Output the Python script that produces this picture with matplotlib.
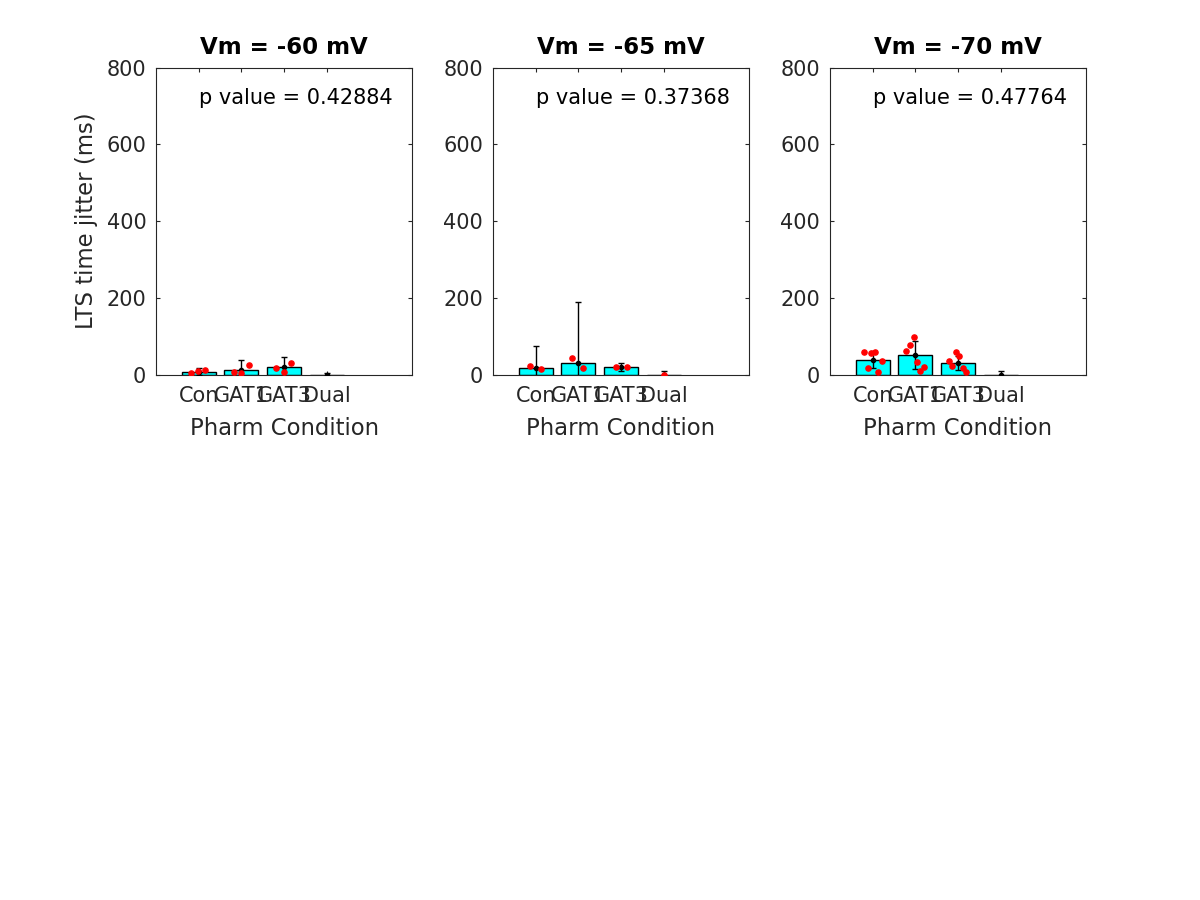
import numpy as np
import matplotlib.pyplot as plt

# conditions and per-panel data
conditions = ["Con", "GAT1", "GAT3", "Dual"]
titles = ["Vm = -60 mV", "Vm = -65 mV", "Vm = -70 mV"]
p_values = ["0.42884", "0.37368", "0.47764"]

means_60 = [8, 12, 19, 0]
errs_60 = [9, 26, 27, 5]
pts_60 = [[3, 10, 11], [8, 3, 24], [18, 8, 30], []]
jit_60 = [[-0.18, -0.01, 0.15], [-0.17, 0.0, 0.17], [-0.18, 0.0, 0.16], []]

means_65 = [18, 29, 20, 0]
errs_65 = [56, 160, 10, 10]
pts_65 = [[23, 14], [42, 16], [19, 21], [0]]
jit_65 = [[-0.13, 0.13], [-0.14, 0.11], [-0.12, 0.13], [0.0]]

means_70 = [39, 51, 31, 0]
errs_70 = [23, 36, 18, 10]
pts_70 = [[60, 56, 60, 35, 18, 6], [99, 78, 62, 33, 21, 10],
          [59, 48, 36, 22, 16, 8], []]
jit_70 = [[-0.2, -0.03, 0.05, 0.22, -0.11, 0.13],
          [-0.04, -0.13, -0.21, 0.04, 0.2, 0.12],
          [-0.05, 0.03, -0.21, -0.13, 0.12, 0.2], []]

panels = [(means_60, errs_60, pts_60, jit_60),
          (means_65, errs_65, pts_65, jit_65),
          (means_70, errs_70, pts_70, jit_70)]

grey = "#262626"
fig = plt.figure(figsize=(12, 9), dpi=100)
lefts = [0.13, 0.4108, 0.6916]

for k, (means, errs, pts, jit) in enumerate(panels):
    ax = fig.add_axes([lefts[k], 0.5838, 0.2134, 0.3412])
    x = np.arange(1, len(conditions) + 1)
    ax.bar(x, means, width=0.8, color="cyan", edgecolor="black", linewidth=1, zorder=2)
    ax.errorbar(x, means, yerr=errs, fmt=".", color="black", ecolor="black",
                elinewidth=1, capsize=2, markersize=6, zorder=3)
    for i in range(len(conditions)):
        if pts[i]:
            ax.scatter(x[i] + np.array(jit[i]), pts[i], s=14, color="red", zorder=4)
    ax.set_xlim(0, 6)
    ax.set_ylim(0, 800)
    ax.set_xticks(x)
    ax.set_xticklabels(conditions)
    ax.set_yticks([0, 200, 400, 600, 800])
    ax.tick_params(direction="in", length=3, top=True, right=True,
                   labelsize=15, colors=grey)
    ax.tick_params(axis="x", pad=8)
    ax.tick_params(axis="y", pad=7)
    for s in ax.spines.values():
        s.set_color(grey)
        s.set_linewidth(0.8)
    ax.set_title(titles[k], fontsize=16.5, fontweight="bold", color="black", pad=9.5)
    ax.set_xlabel("Pharm Condition", fontsize=16.4, color=grey, labelpad=8)
    if k == 0:
        ax.set_ylabel("LTS time jitter (ms)", fontsize=16.4, color=grey, labelpad=6)
    ax.text(1, 720, "p value = " + p_values[k], fontsize=15, va="center", ha="left")

fig.savefig("out.png", dpi=100)
